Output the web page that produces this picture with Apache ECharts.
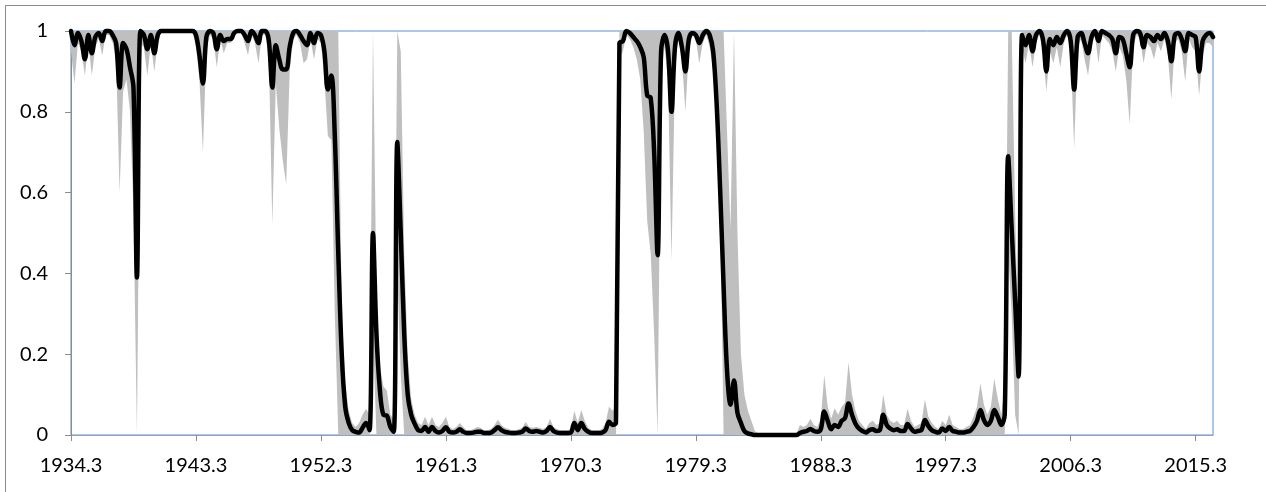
<!DOCTYPE html>
<html>
<head>
<meta charset="utf-8">
<style>
  html, body { margin: 0; padding: 0; background: #fff; }
  #chart { width: 1266px; height: 492px; }
</style>
<script src="https://cdn.jsdelivr.net/npm/echarts@6/dist/echarts.min.js"></script>
</head>
<body>
<div id="chart"></div>
<script>
// Quarterly categories, first quarter 1934 Q3, 330 quarters (to 2016 Q4)
const startYear = 1934;
const startQuarter = 3;
const quarterCount = 330;
const categories = [];
for (let k = 0; k < quarterCount; k++) {
  const q = startQuarter - 1 + k;
  categories.push((startYear + Math.floor(q / 4)) + '.' + (q % 4 + 1));
}

// Smoothed regime probability (black line)
const probability = [
  1.0, 0.965, 0.995, 0.975, 0.93, 0.99, 0.945, 0.985, 0.995, 0.975,
  1.0, 1.0, 0.99, 0.97, 0.86, 0.97, 0.955, 0.91, 0.86, 0.39,
  1.0, 0.99, 0.955, 0.99, 0.945, 0.99, 1.0, 1.0, 1.0, 1.0,
  1.0, 1.0, 1.0, 1.0, 1.0, 1.0, 0.99, 0.94, 0.87, 0.985,
  1.0, 0.995, 0.955, 0.99, 0.975, 0.98, 0.98, 0.995, 1.0, 1.0,
  0.99, 0.975, 1.0, 0.99, 0.97, 1.0, 1.0, 0.975, 0.86, 0.965,
  0.93, 0.905, 0.905, 0.96, 0.995, 1.0, 0.99, 0.975, 0.965, 0.995,
  0.97, 0.995, 0.99, 0.95, 0.855, 0.89, 0.74, 0.45, 0.20, 0.07,
  0.03, 0.012, 0.008, 0.006, 0.018, 0.03, 0.012, 0.50, 0.25, 0.11,
  0.05, 0.048, 0.02, 0.008, 0.725, 0.50, 0.25, 0.10, 0.05, 0.028,
  0.012, 0.01, 0.02, 0.008, 0.02, 0.01, 0.006, 0.01, 0.019, 0.008,
  0.006, 0.008, 0.014, 0.008, 0.005, 0.005, 0.006, 0.008, 0.008, 0.005,
  0.005, 0.006, 0.012, 0.019, 0.012, 0.008, 0.006, 0.005, 0.005, 0.006,
  0.008, 0.016, 0.01, 0.008, 0.01, 0.008, 0.006, 0.01, 0.02, 0.01,
  0.006, 0.005, 0.005, 0.005, 0.006, 0.03, 0.012, 0.03, 0.015, 0.008,
  0.005, 0.005, 0.005, 0.006, 0.012, 0.033, 0.025, 0.03, 0.97, 0.975,
  1.0, 0.995, 0.985, 0.975, 0.96, 0.935, 0.84, 0.835, 0.70, 0.445,
  0.95, 0.99, 0.95, 0.80, 0.96, 0.995, 0.96, 0.90, 0.98, 0.995,
  0.99, 0.97, 0.99, 1.0, 0.99, 0.95, 0.82, 0.61, 0.37, 0.16,
  0.075, 0.135, 0.055, 0.03, 0.01, 0.004, 0.002, 0.0, 0.0, 0.0,
  0.0, 0.0, 0.0, 0.0, 0.0, 0.0, 0.0, 0.0, 0.0, 0.0,
  0.005, 0.008, 0.01, 0.015, 0.01, 0.008, 0.014, 0.058, 0.035, 0.014,
  0.025, 0.02, 0.035, 0.042, 0.078, 0.05, 0.028, 0.016, 0.01, 0.006,
  0.012, 0.014, 0.01, 0.012, 0.05, 0.025, 0.016, 0.012, 0.014, 0.01,
  0.01, 0.027, 0.016, 0.008, 0.01, 0.012, 0.037, 0.022, 0.012, 0.008,
  0.006, 0.016, 0.01, 0.02, 0.01, 0.008, 0.006, 0.006, 0.008, 0.01,
  0.02, 0.035, 0.062, 0.037, 0.025, 0.035, 0.062, 0.045, 0.025, 0.05,
  0.69, 0.51, 0.33, 0.145, 0.99, 0.965, 0.99, 0.95, 0.99, 1.0,
  0.98, 0.90, 0.98, 0.965, 0.985, 0.97, 0.99, 1.0, 0.975, 0.855,
  0.985, 0.995, 0.97, 0.945, 0.985, 1.0, 0.975, 1.0, 0.995, 0.99,
  0.98, 0.945, 0.985, 0.98, 0.945, 0.91, 0.99, 1.0, 0.995, 0.96,
  0.99, 0.985, 0.975, 0.99, 0.98, 0.995, 0.975, 0.925, 0.99, 0.995,
  0.98, 0.95, 0.995, 0.99, 0.985, 0.90, 0.975, 0.99, 0.995, 0.985
];

// Lower bound of the confidence band
const lowerBound = [
  0.95, 0.87, 0.97, 0.95, 0.89, 0.97, 0.89, 0.96, 0.98, 0.94,
  0.99, 0.99, 0.97, 0.93, 0.60, 0.85, 0.88, 0.80, 0.55, 0.0,
  0.97, 0.96, 0.89, 0.97, 0.90, 0.97, 1.0, 1.0, 1.0, 1.0,
  1.0, 1.0, 1.0, 1.0, 1.0, 1.0, 0.96, 0.88, 0.70, 0.95,
  0.99, 0.98, 0.91, 0.98, 0.945, 0.97, 0.97, 0.99, 1.0, 1.0,
  0.97, 0.94, 0.99, 0.97, 0.92, 0.99, 0.99, 0.94, 0.52, 0.87,
  0.76, 0.68, 0.62, 0.90, 0.98, 0.99, 0.97, 0.92, 0.93, 0.98,
  0.93, 0.98, 0.97, 0.88, 0.74, 0.73, 0.30, 0.0, 0.0, 0.0,
  0, 0, 0, 0, 0, 0, 0, 0.25, 0, 0,
  0, 0, 0, 0, 0.40, 0.15, 0, 0, 0, 0,
  0, 0, 0, 0, 0, 0, 0, 0, 0, 0,
  0, 0, 0, 0, 0, 0, 0, 0, 0, 0,
  0, 0, 0, 0, 0, 0, 0, 0, 0, 0,
  0, 0, 0, 0, 0, 0, 0, 0, 0, 0,
  0, 0, 0, 0, 0, 0, 0, 0, 0, 0,
  0, 0, 0, 0, 0, 0, 0, 0, 0.93, 0.95,
  0.99, 0.98, 0.96, 0.93, 0.88, 0.75, 0.53, 0.45, 0.25, 0.0,
  0.90, 0.96, 0.88, 0.43, 0.90, 0.99, 0.93, 0.80, 0.95, 0.99,
  0.98, 0.92, 0.97, 0.99, 0.96, 0.90, 0.78, 0.58, 0.0, 0.0,
  0, 0, 0, 0, 0, 0, 0, 0, 0, 0,
  0, 0, 0, 0, 0, 0, 0, 0, 0, 0,
  0, 0, 0, 0, 0, 0, 0, 0, 0, 0,
  0, 0, 0, 0, 0, 0, 0, 0, 0, 0,
  0, 0, 0, 0, 0, 0, 0, 0, 0, 0,
  0, 0, 0, 0, 0, 0, 0, 0, 0, 0,
  0, 0, 0, 0, 0, 0, 0, 0, 0, 0,
  0, 0, 0, 0, 0, 0, 0, 0, 0, 0,
  0.45, 0.30, 0.05, 0.0, 0.96, 0.92, 0.97, 0.91, 0.97, 0.99,
  0.95, 0.85, 0.95, 0.92, 0.96, 0.91, 0.97, 0.99, 0.95, 0.71,
  0.96, 0.98, 0.93, 0.89, 0.96, 0.99, 0.92, 0.99, 0.98, 0.97,
  0.95, 0.90, 0.96, 0.94, 0.88, 0.77, 0.96, 0.99, 0.98, 0.92,
  0.97, 0.96, 0.93, 0.97, 0.95, 0.98, 0.94, 0.83, 0.97, 0.98,
  0.95, 0.875, 0.98, 0.96, 0.95, 0.84, 0.94, 0.97, 0.97, 0.96
];

// Upper bound of the confidence band
const upperBound = [
  1, 1, 1, 1, 1, 1, 1, 1, 1, 1,
  1, 1, 1, 1, 1, 1, 1, 1, 1, 1,
  1, 1, 1, 1, 1, 1, 1, 1, 1, 1,
  1, 1, 1, 1, 1, 1, 1, 1, 1, 1,
  1, 1, 1, 1, 1, 1, 1, 1, 1, 1,
  1, 1, 1, 1, 1, 1, 1, 1, 1, 1,
  1, 1, 1, 1, 1, 1, 1, 1, 1, 1,
  1, 1, 1, 1, 1, 1, 1, 1, 0.30, 0.13,
  0.06, 0.03, 0.02, 0.03, 0.05, 0.065, 0.05, 1.0, 0.35, 0.17,
  0.12, 0.11, 0.05, 0.04, 1.0, 0.95, 0.45, 0.20, 0.09, 0.05,
  0.03, 0.025, 0.045, 0.025, 0.045, 0.025, 0.02, 0.03, 0.045, 0.02,
  0.015, 0.02, 0.03, 0.02, 0.012, 0.012, 0.015, 0.02, 0.018, 0.012,
  0.012, 0.015, 0.025, 0.038, 0.025, 0.018, 0.015, 0.012, 0.012, 0.015,
  0.018, 0.032, 0.02, 0.018, 0.02, 0.018, 0.015, 0.02, 0.04, 0.02,
  0.015, 0.012, 0.012, 0.012, 0.015, 0.06, 0.03, 0.062, 0.035, 0.018,
  0.012, 0.012, 0.012, 0.015, 0.03, 0.07, 0.06, 0.07, 1, 1,
  1, 1, 1, 1, 1, 1, 1, 1, 1, 1,
  1, 1, 1, 1, 1, 1, 1, 1, 1, 1,
  1, 1, 1, 1, 1, 1, 1, 1, 1, 0.75,
  0.51, 1.0, 0.5, 0.2, 0.1, 0.06, 0.035, 0.01, 0.004, 0.003,
  0.003, 0.003, 0.003, 0.003, 0.003, 0.003, 0.003, 0.003, 0.003, 0.003,
  0.025, 0.02, 0.025, 0.04, 0.025, 0.02, 0.04, 0.148, 0.07, 0.04,
  0.066, 0.05, 0.07, 0.08, 0.18, 0.10, 0.06, 0.035, 0.025, 0.015,
  0.03, 0.035, 0.025, 0.03, 0.10, 0.05, 0.035, 0.03, 0.035, 0.025,
  0.025, 0.065, 0.035, 0.02, 0.025, 0.03, 0.088, 0.045, 0.03, 0.02,
  0.015, 0.035, 0.025, 0.05, 0.025, 0.02, 0.015, 0.015, 0.02, 0.025,
  0.045, 0.07, 0.128, 0.075, 0.05, 0.07, 0.14, 0.09, 0.05, 0.12,
  1, 1, 0.55, 0.2, 1, 1, 1, 1, 1, 1,
  1, 1, 1, 1, 1, 1, 1, 1, 1, 1,
  1, 1, 1, 1, 1, 1, 1, 1, 1, 1,
  1, 1, 1, 1, 1, 1, 1, 1, 1, 1,
  1, 1, 1, 1, 1, 1, 1, 1, 1, 1,
  1, 1, 1, 1, 1, 1, 1, 1, 1, 1
];

// Band thickness stacked on top of the lower bound
const bandWidth = upperBound.map((u, k) => +(u - lowerBound[k]).toFixed(4));

const labelFont = 'Lato, "Liberation Sans", sans-serif';

const chart = echarts.init(document.getElementById('chart'), null, { renderer: 'canvas' });
chart.setOption({
  animation: false,
  backgroundColor: '#ffffff',
  grid: {
    left: 71, right: 53, top: 31, bottom: 57,
    show: true,
    borderColor: '#5b8fd6',
    borderWidth: 1,
    backgroundColor: 'transparent'
  },
  xAxis: {
    type: 'category',
    data: categories,
    boundaryGap: false,
    axisLine: { lineStyle: { color: '#8fa2bf', width: 1 } },
    axisTick: { show: true, interval: 35, length: 6, lineStyle: { color: '#8c8c8c' } },
    axisLabel: {
      interval: 35, margin: 21,
      fontFamily: labelFont, fontSize: 20, color: '#000'
    },
    splitLine: { show: false }
  },
  yAxis: {
    type: 'value',
    min: 0, max: 1, interval: 0.2,
    axisLine: { show: true, lineStyle: { color: '#8c8c8c', width: 1 } },
    axisTick: { show: true, length: 6, lineStyle: { color: '#8c8c8c' } },
    axisLabel: { margin: 23, fontFamily: labelFont, fontSize: 20, color: '#000' },
    splitLine: { show: false }
  },
  graphic: [
    { type: 'line', silent: true, shape: { x1: 6, y1: 5.5, x2: 1266, y2: 5.5 },
      style: { stroke: '#8a8a8a', lineWidth: 1 } },
    { type: 'line', silent: true, shape: { x1: 5.5, y1: 5, x2: 5.5, y2: 492 },
      style: { stroke: '#8a8a8a', lineWidth: 1 } },
    { type: 'text', silent: true, x: 539, y: -19,
      style: { text: 'g', font: '20px ' + labelFont, fill: '#000', verticalAlign: 'top' } }
  ],
  series: [
    {
      name: 'lower', type: 'line', stack: 'ci', data: lowerBound,
      symbol: 'none', silent: true, lineStyle: { width: 0, opacity: 0 }, z: 1
    },
    {
      name: 'band', type: 'line', stack: 'ci', data: bandWidth,
      symbol: 'none', silent: true, lineStyle: { width: 0, opacity: 0 },
      areaStyle: { color: '#bfbfbf', opacity: 1 }, z: 1
    },
    {
      name: 'probability', type: 'line', data: probability,
      symbol: 'none', smooth: 0.35, clip: false, silent: true,
      lineStyle: { color: '#000', width: 4.5, join: 'round', cap: 'round' }, z: 3
    }
  ]
});
</script>
</body>
</html>
